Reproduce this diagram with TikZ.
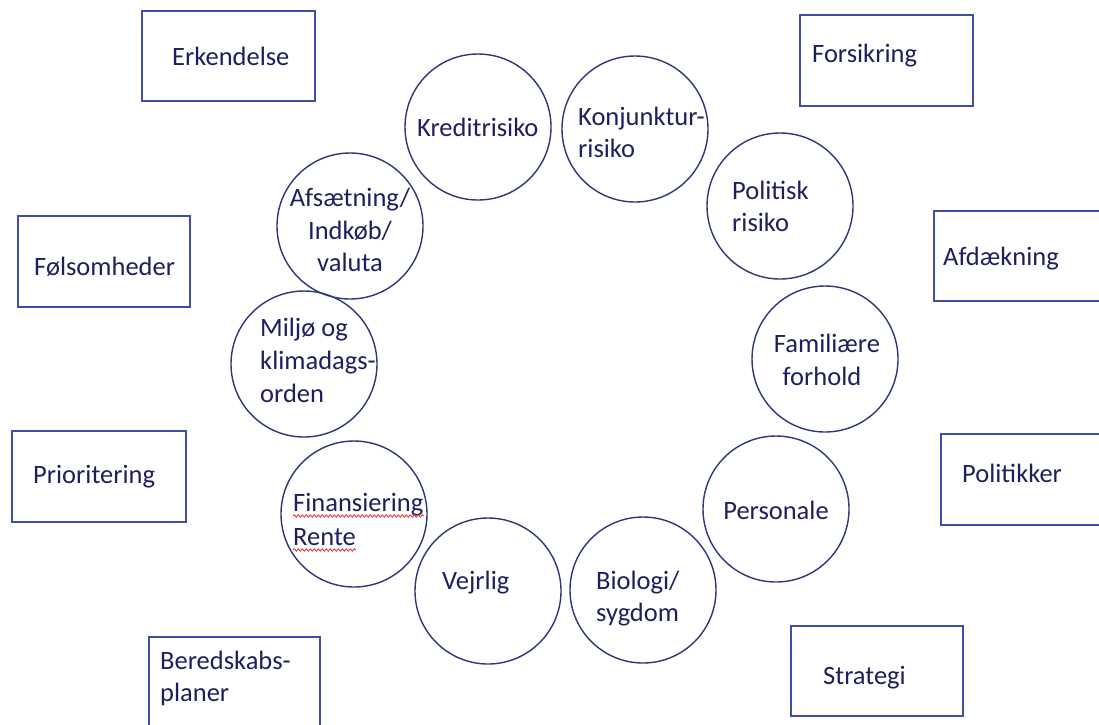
\documentclass[tikz,border=0pt]{standalone}
\usepackage{fontspec}
\setmainfont{Carlito}
\usetikzlibrary{decorations.pathmorphing}
\definecolor{txt}{HTML}{1E1F5C}
\definecolor{circ}{HTML}{2E3878}
\definecolor{boxc}{HTML}{3F4FA8}
\definecolor{squig}{HTML}{E03030}
\tikzset{
  rbox/.style={draw=boxc, line width=1.4pt, fill=none},
  rcirc/.style={draw=circ, line width=1.4pt, circle, minimum size=146pt, inner sep=0pt},
  lbl/.style={text=txt, font=\fontsize{26.5}{33}\selectfont, inner sep=0pt, anchor=base west},
  clbl/.style={text=txt, font=\fontsize{26.5}{33}\selectfont, inner sep=0pt, anchor=base},
  spell/.style={draw=squig, line width=0.8pt, decorate, decoration={snake, amplitude=1.2pt, segment length=4pt}}
}
\begin{document}
\begin{tikzpicture}[x=1pt, y=-1pt]
\useasboundingbox (0,0) rectangle (1099,724);
\clip (0,0) rectangle (1099,724);
\fill[white] (0,0) rectangle (1099,724);
% boxes
\draw[rbox] (142,11) rectangle (315,101);
\node[lbl] (erk) at (172,65) {Erkendelse};
\draw[rbox] (800,15) rectangle (973,106);
\node[lbl] (fors) at (812,62) {Forsikring};
\draw[rbox] (18,216) rectangle (190,307);
\node[lbl] (fols) at (34,275) {Følsomheder};
\draw[rbox] (934,211) rectangle (1110,301);
\node[lbl] (afd) at (943,265) {Afdækning};
\draw[rbox] (12,431) rectangle (186,522);
\node[lbl] (prio) at (33,483) {Prioritering};
\draw[rbox] (941,434) rectangle (1110,525);
\node[lbl] (poli) at (962,482) {Politikker};
\draw[rbox] (149,637) rectangle (320,740);
\node[lbl] (bered1) at (160,669) {Beredskabs-};
\node[lbl] (bered2) at (160,701) {planer};
\draw[rbox] (791,626) rectangle (963,716);
\node[lbl] (strat) at (823,684) {Strategi};
% circles
\node[rcirc] (c1) at (478,127) {};
\node[rcirc] (c2) at (635,129) {};
\node[rcirc] (c3) at (780,206) {};
\node[rcirc] (c4) at (825,359) {};
\node[rcirc] (c5) at (776,509) {};
\node[rcirc] (c6) at (643,590) {};
\node[rcirc] (c7) at (488,591) {};
\node[rcirc] (c8) at (354,514) {};
\node[rcirc] (c9) at (304,364) {};
\node[rcirc] (c10) at (350,226) {};
% circle labels
\node[lbl] (t1) at (417,136) {Kreditrisiko};
\node[lbl] (t2a) at (578,125) {Konjunktur-};
\node[lbl] (t2b) at (578,157) {risiko};
\node[lbl] (t3a) at (732,199) {Politisk};
\node[lbl] (t3b) at (732,231) {risiko};
\node[clbl] (t4a) at (827,352) {Familiære};
\node[clbl] (t4b) at (822,385) {forhold};
\node[clbl] (t5) at (776,519) {Personale};
\node[lbl] (t6a) at (596,589) {Biologi/};
\node[lbl] (t6b) at (596,621) {sygdom};
\node[lbl] (t7) at (442,589) {Vejrlig};
\node[lbl] (t8a) at (293,511) {Finansiering};
\node[lbl] (t8b) at (293,545) {Rente};
\node[lbl] (t9a) at (260,336) {Miljø og};
\node[lbl] (t9b) at (260,369) {klimadags-};
\node[lbl] (t9c) at (260,402) {orden};
\node[clbl] (t10a) at (350,206) {Afsætning/};
\node[clbl] (t10b) at (350,239) {Indkøb/};
\node[clbl] (t10c) at (350,271) {valuta};
% spelling marks
\draw[spell] ([yshift=-5pt]t8a.base west) -- ([yshift=-5pt]t8a.base east);
\draw[spell] ([yshift=-5pt]t8b.base west) -- ([yshift=-5pt]t8b.base east);
\end{tikzpicture}
\end{document}
